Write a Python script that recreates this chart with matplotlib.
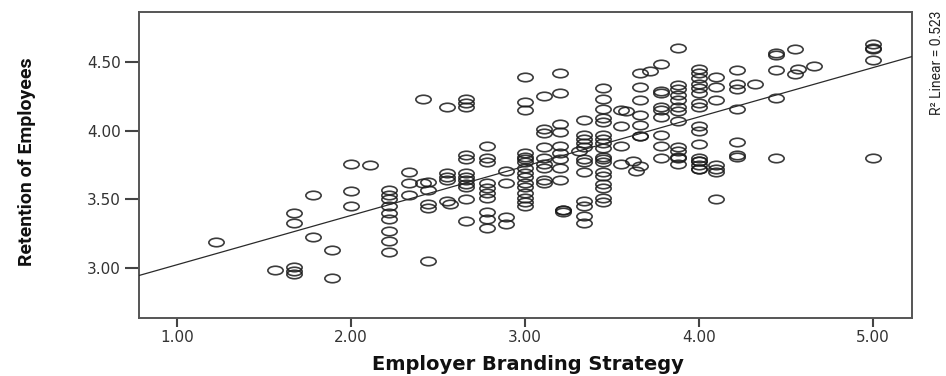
import numpy as np
import matplotlib
matplotlib.use("Agg")
import matplotlib.pyplot as plt
from matplotlib.path import Path
from matplotlib.markers import MarkerStyle
from matplotlib.transforms import Affine2D

# Employer branding strategy score (x) and retention of employees score (y)
branding = (
    [1.22]
    + [1.56]
    + [1.67] * 5
    + [1.78] * 2
    + [1.89] * 2
    + [2.00] * 3
    + [2.11]
    + [2.22] * 9
    + [2.33] * 3
    + [2.41] * 2
    + [2.44] * 5
    + [2.55] * 5
    + [2.57]
    + [2.66] * 12
    + [2.78] * 10
    + [2.89] * 4
    + [3.00] * 16
    + [3.11] * 9
    + [3.20] * 9
    + [3.22] * 3
    + [3.31]
    + [3.34] * 12
    + [3.445] * 18
    + [3.55] * 4
    + [3.58, 3.62, 3.64, 3.66]
    + [3.66] * 7
    + [3.72]
    + [3.78] * 9
    + [3.88] * 13
    + [4.00] * 17
    + [4.10] * 7
    + [4.22] * 7
    + [4.32]
    + [4.44] * 5
    + [4.55] * 2
    + [4.57, 4.66]
    + [5.00] * 5
)

retention = (
    [3.19]
    + [2.99]
    + [3.40, 3.33, 3.01, 2.98, 2.96]
    + [3.53, 3.23]
    + [3.13, 2.93]
    + [3.76, 3.56, 3.45]
    + [3.75]
    + [3.57, 3.53, 3.50, 3.45, 3.40, 3.36, 3.27, 3.20, 3.12]
    + [3.70, 3.62, 3.53]
    + [4.23, 3.62]
    + [3.63, 3.57, 3.47, 3.44, 3.05]
    + [4.17, 3.69, 3.66, 3.64, 3.49]
    + [3.47]
    + [4.23, 4.20, 4.17, 3.82, 3.79, 3.69, 3.66, 3.64, 3.61, 3.59, 3.50, 3.34]
    + [3.89, 3.80, 3.77, 3.62, 3.58, 3.55, 3.51, 3.41, 3.36, 3.29]
    + [3.71, 3.62, 3.37, 3.32]
    + [4.39, 4.21, 4.15, 3.84, 3.81, 3.79, 3.77, 3.73, 3.69, 3.66, 3.62, 3.59,
       3.55, 3.51, 3.48, 3.45]
    + [4.25, 4.01, 3.98, 3.88, 3.80, 3.76, 3.73, 3.64, 3.62]
    + [4.42, 4.27, 4.05, 3.99, 3.89, 3.84, 3.79, 3.73, 3.64]
    + [3.42, 3.42, 3.41]
    + [3.85]
    + [4.08, 3.97, 3.94, 3.91, 3.88, 3.79, 3.77, 3.70, 3.49, 3.45, 3.38, 3.33]
    + [4.31, 4.23, 4.16, 4.09, 4.06, 3.97, 3.94, 3.91, 3.87, 3.81, 3.79, 3.77,
       3.70, 3.67, 3.61, 3.58, 3.51, 3.48]
    + [4.15, 4.03, 3.89, 3.76]
    + [4.14, 3.78, 3.71, 3.74]
    + [4.42, 4.32, 4.22, 4.11, 4.04, 3.96, 3.96]
    + [4.43]
    + [4.48, 4.29, 4.27, 4.17, 4.15, 4.10, 3.97, 3.89, 3.80]
    + [4.60, 4.33, 4.30, 4.26, 4.22, 4.17, 4.14, 4.07, 3.88, 3.85, 3.81, 3.80, 3.76]
    + [4.45, 4.42, 4.38, 4.34, 4.31, 4.27, 4.20, 4.17, 4.03, 4.00, 3.90, 3.80,
       3.78, 3.78, 3.75, 3.72, 3.72]
    + [4.39, 4.32, 4.22, 3.75, 3.72, 3.70, 3.50]
    + [4.44, 4.34, 4.30, 4.16, 3.92, 3.81, 3.82]
    + [4.34]
    + [4.56, 4.55, 4.44, 4.24, 3.80]
    + [4.59, 4.41]
    + [4.45, 4.47]
    + [4.63, 4.60, 4.59, 4.51, 3.80]
)

x_ticks = [1.00, 2.00, 3.00, 4.00, 5.00]
y_ticks = [3.00, 3.50, 4.00, 4.50]
r2_label = "R\u00b2 Linear = 0.523"

x = np.asarray(branding)
y = np.asarray(retention)

fig = plt.figure(figsize=(9.46, 3.76), dpi=100)
ax = fig.add_axes([139 / 946, 58 / 376, 773 / 946, 306 / 376])

# hollow, slightly flattened circles
circle = Path.unit_circle()
ellipse = circle.transformed(Affine2D().scale(1.8, 1.0))
marker = MarkerStyle(ellipse)

ax.plot(x, y, linestyle="none", marker=marker, markersize=11,
        markerfacecolor="none", markeredgecolor="#1a1a1a",
        markeredgewidth=1.2, alpha=0.85, zorder=3)

xlim = (0.78, 5.224)
ylim = (2.639, 4.861)
ax.set_xlim(*xlim)
ax.set_ylim(*ylim)

# least-squares fit line across the full x range
slope, intercept = np.polyfit(x, y, 1)
xs = np.array(xlim)
ax.plot(xs, intercept + slope * xs, color="#2a2a2a", linewidth=0.9, zorder=4)

ax.set_xticks(x_ticks)
ax.set_yticks(y_ticks)
ax.set_xticklabels([f"{v:.2f}" for v in x_ticks])
ax.set_yticklabels([f"{v:.2f}" for v in y_ticks])

for side in ["left", "bottom", "right", "top"]:
    ax.spines[side].set_color("#555555")
    ax.spines[side].set_linewidth(1.4)

ax.tick_params(axis="x", length=6.5, width=1.5, color="#444444", pad=2.5,
               labelsize=11, labelcolor="#333333")
ax.tick_params(axis="y", length=10, width=1.5, color="#444444", pad=3,
               labelsize=11, labelcolor="#333333")
for lbl in ax.get_xticklabels() + ax.get_yticklabels():
    lbl.set_family("DejaVu Sans")

fig.text(528 / 946, (376 - 370) / 376, "Employer Branding Strategy",
         ha="center", va="baseline", fontsize=14, fontweight="bold",
         family="DejaVu Sans", color="#111111")

fig.text(27 / 946, (376 - 162) / 376, "Retention of Employees", rotation=90,
         ha="center", va="center", fontsize=14, fontweight="bold",
         family="Roboto", color="#111111")

fig.text(937 / 946, (376 - 11) / 376, r2_label, rotation=90,
         ha="center", va="top", fontsize=10,
         family="Roboto", color="#222222")

fig.savefig("out.png", dpi=100, facecolor="white")
